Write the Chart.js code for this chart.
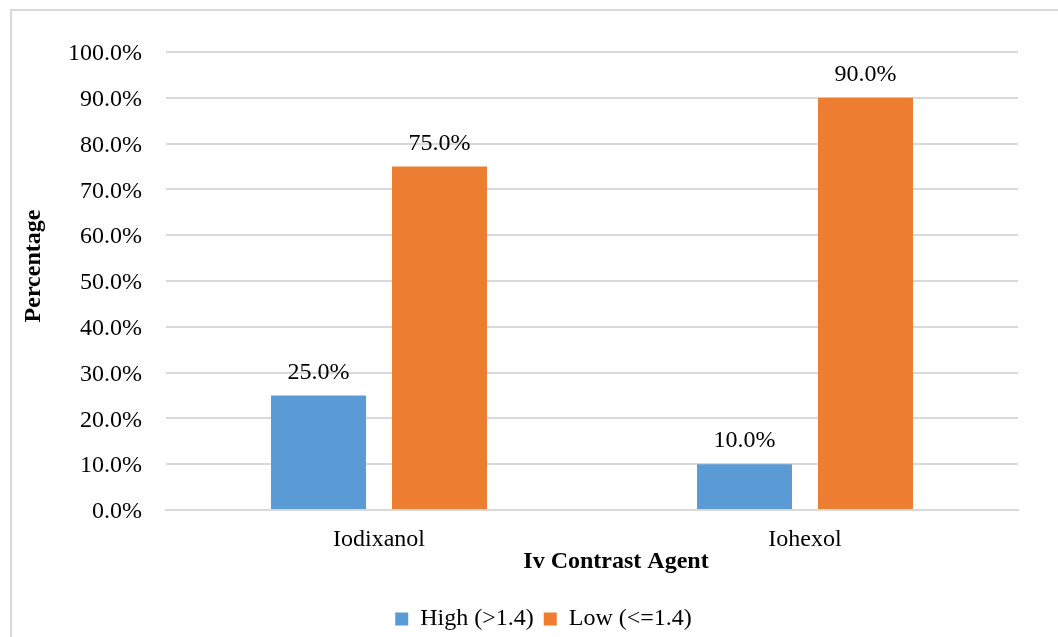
<!DOCTYPE html>
<html>
<head>
<meta charset="utf-8">
<script src="https://cdn.jsdelivr.net/npm/chart.js@4.4.1/dist/chart.umd.min.js"></script>
<style>
  html, body { margin: 0; padding: 0; background: #fff; overflow: hidden; }
  #frame { position: absolute; left: 10px; top: 9px; width: 1100px; height: 700px; border: 2px solid #d9d9d9; box-sizing: border-box; }
  #wrap { position: absolute; left: 0; top: 0; width: 1058px; height: 637px; }
</style>
</head>
<body>
<div id="frame"></div>
<div id="wrap"><canvas id="c" width="1058" height="637"></canvas></div>
<script>
const categories = ['Iodixanol', 'Iohexol'];
const seriesNames = ['High (>1.4)', 'Low (<=1.4)'];
const highValues = [25.0, 10.0];
const lowValues = [75.0, 90.0];
const yTicks = { min: 0, max: 100, step: 10 };
const xTitle = 'Iv Contrast Agent';
const yTitle = 'Percentage';

const FONT = "'Liberation Serif', 'Times New Roman', serif";
const TEXT = '#000000';

const valueLabels = {
  id: 'valueLabels',
  afterDatasetsDraw(chart) {
    const ctx = chart.ctx;
    ctx.save();
    ctx.font = '24px ' + FONT;
    ctx.fillStyle = TEXT;
    ctx.textAlign = 'center';
    ctx.textBaseline = 'alphabetic';
    chart.data.datasets.forEach((ds, i) => {
      const meta = chart.getDatasetMeta(i);
      meta.data.forEach((el, j) => {
        ctx.fillText(ds.data[j].toFixed(1) + '%', el.x, el.y - 17);
      });
    });
    ctx.restore();
  }
};

new Chart(document.getElementById('c'), {
  type: 'bar',
  data: {
    labels: categories,
    datasets: [
      { label: seriesNames[0], data: highValues, backgroundColor: '#5B9BD5', barPercentage: 0.785, categoryPercentage: 0.568 },
      { label: seriesNames[1], data: lowValues, backgroundColor: '#ED7D31', barPercentage: 0.785, categoryPercentage: 0.568 }
    ]
  },
  options: {
    responsive: false,
    animation: false,
    devicePixelRatio: 1,
    layout: { padding: { left: 69, right: 40, top: 52, bottom: -4 } },
    plugins: {
      legend: {
        position: 'bottom',
        labels: {
          font: { family: FONT, size: 24 },
          color: TEXT,
          boxWidth: 13,
          boxHeight: 13,
          padding: 10
        }
      },
      tooltip: { enabled: false }
    },
    scales: {
      x: {
        grid: { display: false },
        border: { display: true, color: '#d9d9d9', width: 2 },
        ticks: { font: { family: FONT, size: 24 }, color: TEXT, padding: 7 },
        title: {
          display: true,
          text: '        ' + xTitle,
          font: { family: FONT, size: 24, weight: 'bold' },
          color: TEXT,
          padding: { top: 0, bottom: 21 }
        },
        afterFit(scale) { scale.height = 87; }
      },
      y: {
        min: yTicks.min,
        max: yTicks.max,
        grid: { color: '#d9d9d9', lineWidth: 2, drawTicks: false },
        border: { display: false },
        ticks: {
          stepSize: yTicks.step,
          font: { family: FONT, size: 24 },
          color: TEXT,
          padding: 24,
          labelOffset: 2,
          callback: (v) => v.toFixed(1) + '%'
        },
        title: {
          display: true,
          text: '     ' + yTitle,
          font: { family: FONT, size: 24, weight: 'bold' },
          color: TEXT,
          padding: { top: -50, bottom: 0 }
        },
        afterFit(scale) { scale.width = 97; }
      }
    }
  },
  plugins: [valueLabels]
});
</script>
</body>
</html>
